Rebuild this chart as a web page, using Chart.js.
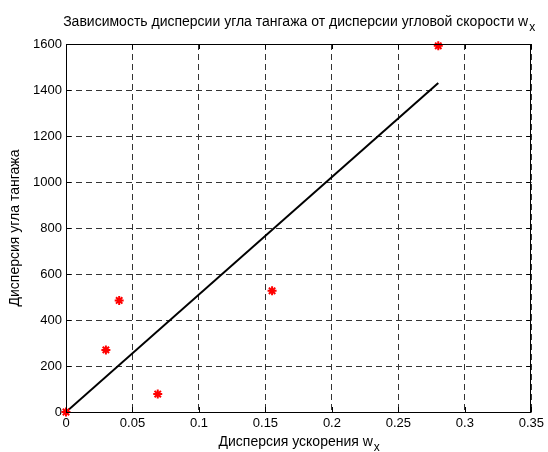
<!DOCTYPE html>
<html>
<head>
<meta charset="utf-8">
<script src="https://cdn.jsdelivr.net/npm/chart.js@4.4.1/dist/chart.umd.min.js"></script>
<style>
html,body{margin:0;padding:0;background:#fff;}
#wrap{width:548px;height:452px;position:relative;}
</style>
</head>
<body>
<div id="wrap"><canvas id="c" width="548" height="452"></canvas></div>
<script>
const titleMain = 'Зависимость дисперсии угла тангажа от дисперсии угловой скорости w';
const titleSub = 'x';
const xTitleMain = 'Дисперсия ускорения w';
const xTitleSub = 'x';
const yTitle = 'Дисперсия угла тангажа';

const xTicks = [0, 0.05, 0.1, 0.15, 0.2, 0.25, 0.3, 0.35];
const yTicks = [0, 200, 400, 600, 800, 1000, 1200, 1400, 1600];

const pointX = [0, 0.03, 0.04, 0.069, 0.155, 0.28];
const pointY = [0, 270, 485, 78, 527, 1592];

const fitX = [0, 0.28];
const fitY = [0, 1430];

const FONT = '"Liberation Sans", Arial, sans-serif';

const textPlugin = {
  id: 'matlabDecor',
  afterDraw(chart) {
    const ctx = chart.ctx;
    const ca = chart.chartArea;
    const xs = chart.scales.x, ys = chart.scales.y;
    ctx.save();
    // box
    ctx.strokeStyle = '#000';
    ctx.lineWidth = 1;
    ctx.setLineDash([]);
    ctx.strokeRect(Math.round(ca.left) + 0.5, Math.round(ca.top) + 0.5,
                   Math.round(ca.right - ca.left) - 1, Math.round(ca.bottom - ca.top));
    // inward ticks
    const tl = 5;
    ctx.beginPath();
    xTicks.forEach(v => {
      const px = Math.round(xs.getPixelForValue(v)) + 0.5;
      ctx.moveTo(px, ca.bottom); ctx.lineTo(px, ca.bottom - tl);
      ctx.moveTo(px, ca.top); ctx.lineTo(px, ca.top + tl);
    });
    yTicks.forEach(v => {
      const py = Math.round(ys.getPixelForValue(v)) + 0.5;
      ctx.moveTo(ca.left, py); ctx.lineTo(ca.left + tl, py);
      ctx.moveTo(ca.right, py); ctx.lineTo(ca.right - tl, py);
    });
    ctx.stroke();

    ctx.fillStyle = '#000';
    ctx.textBaseline = 'alphabetic';
    ctx.textAlign = 'left';
    const cx = (ca.left + ca.right) / 2;
    // title
    ctx.font = '14px ' + FONT;
    let wMain = ctx.measureText(titleMain).width;
    ctx.font = '12px ' + FONT;
    let wSub = ctx.measureText(titleSub).width;
    let x0 = cx - (wMain + wSub) / 2;
    ctx.font = '14px ' + FONT;
    ctx.fillText(titleMain, x0, 26);
    ctx.font = '12px ' + FONT;
    ctx.fillText(titleSub, x0 + wMain + 1, 31);
    // x title
    ctx.font = '14px ' + FONT;
    wMain = ctx.measureText(xTitleMain).width;
    ctx.font = '12px ' + FONT;
    wSub = ctx.measureText(xTitleSub).width;
    x0 = cx - (wMain + wSub) / 2;
    ctx.font = '14px ' + FONT;
    ctx.fillText(xTitleMain, x0, 446);
    ctx.font = '12px ' + FONT;
    ctx.fillText(xTitleSub, x0 + wMain + 1, 451);
    // y title
    ctx.translate(19, (ca.top + ca.bottom) / 2);
    ctx.rotate(-Math.PI / 2);
    ctx.textAlign = 'center';
    ctx.font = '14px ' + FONT;
    ctx.fillText(yTitle, 0, 0);
    ctx.restore();
  }
};

new Chart(document.getElementById('c'), {
  type: 'scatter',
  data: {
    datasets: [
      {
        label: 'points',
        data: pointX.map((x, i) => ({x: x, y: pointY[i]})),
        pointStyle: 'star',
        pointRadius: 4.5,
        pointBorderWidth: 2,
        borderColor: '#ff0000',
        backgroundColor: '#ff0000',
        showLine: false,
        clip: false
      },
      {
        label: 'fit',
        type: 'line',
        data: fitX.map((x, i) => ({x: x, y: fitY[i]})),
        borderColor: '#000',
        borderWidth: 2,
        pointRadius: 0,
        fill: false
      }
    ]
  },
  plugins: [textPlugin],
  options: {
    responsive: false,
    animation: false,
    events: [],
    layout: { padding: { left: 0, top: 44, right: 14, bottom: 0 } },
    plugins: {
      legend: { display: false },
      title: { display: false },
      tooltip: { enabled: false }
    },
    scales: {
      x: {
        type: 'linear',
        min: 0, max: 0.35,
        afterBuildTicks: a => { a.ticks = xTicks.map(v => ({value: v})); },
        afterFit: a => { a.height = 40; },
        ticks: {
          color: '#000',
          font: { family: FONT, size: 13 },
          padding: 4,
          maxRotation: 0,
          callback: v => String(parseFloat(Number(v).toFixed(2)))
        },
        grid: { color: '#333', lineWidth: 1, drawTicks: false },
        border: { display: false, dash: [6, 4] }
      },
      y: {
        type: 'linear',
        min: 0, max: 1600,
        afterBuildTicks: a => { a.ticks = yTicks.map(v => ({value: v})); },
        afterFit: a => { a.width = 66; },
        ticks: {
          color: '#000',
          font: { family: FONT, size: 13 },
          padding: 4,
          callback: v => String(v)
        },
        grid: { color: '#333', lineWidth: 1, drawTicks: false },
        border: { display: false, dash: [6, 4] }
      }
    }
  }
});
</script>
</body>
</html>
